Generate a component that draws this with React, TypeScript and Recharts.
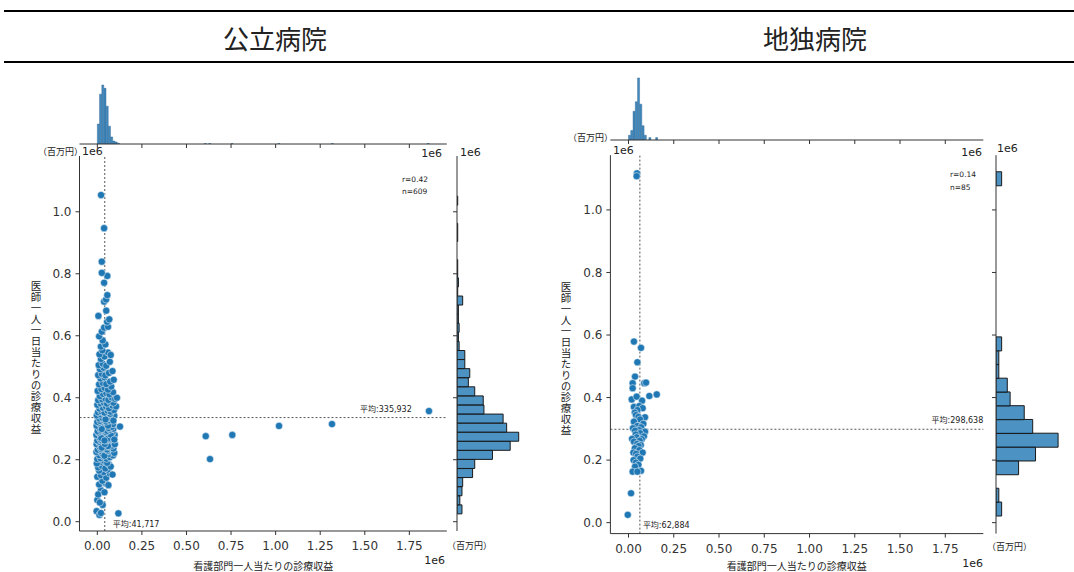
import { ScatterChart, Scatter, BarChart, Bar, XAxis, YAxis, ReferenceLine } from 'recharts'

const FONT = '"DejaVu Sans", "Noto Sans CJK JP", sans-serif'
const CJK = '"Noto Sans CJK JP", sans-serif'
const INK = '#333333'
const BLUE = '#1f77b4'
const GUIDE = '#555555'

const TITLES = ['公立病院', '地独病院']
const X_LABEL = '看護部門一人当たりの診療収益'
const Y_LABEL = '医師一人一日当たりの診療収益'
const UNIT = '（百万円）'
const OFFSET = '1e6'
const X_TICKS = [0, 0.25, 0.5, 0.75, 1, 1.25, 1.5, 1.75]
const Y_TICKS = [0, 0.2, 0.4, 0.6, 0.8, 1.0]
const X_DOMAIN: [number, number] = [-0.1, 1.96]

// 公立病院 — [看護部門, 医師] in units of 1e6
const publicPoints: [number, number][] = [
  [-0.004, 0.034], [0.012, 0.022], [0.118, 0.027], [0.02, 0.028],
  [0.0, 0.07], [0.03, 0.054], [0.014, 0.062],
  [0.02, 0.102], [0.005, 0.088], [0.04, 0.095],
  [0.01, 0.12], [0.045, 0.125], [0.028, 0.132], [0.062, 0.118],
  [0.0, 0.145], [0.02, 0.15], [0.05, 0.142], [0.07, 0.155], [0.035, 0.16], [0.01, 0.165], [0.058, 0.168], [0.085, 0.152],
  [0.005, 0.175], [0.025, 0.18], [0.045, 0.172], [0.065, 0.185], [0.015, 0.192], [0.04, 0.196], [0.075, 0.178], [0.055, 0.19], [-0.003, 0.188],
  [0.0, 0.202], [0.018, 0.205], [0.035, 0.21], [0.052, 0.203], [0.07, 0.208], [0.088, 0.214], [0.01, 0.215], [0.028, 0.22],
  [0.045, 0.224], [0.062, 0.218], [0.078, 0.226], [-0.005, 0.225], [0.022, 0.228], [0.04, 0.213], [0.058, 0.229], [0.095, 0.222],
  [0.002, 0.232], [0.02, 0.235], [0.038, 0.238], [0.055, 0.233], [0.072, 0.24], [0.09, 0.236], [0.012, 0.243], [0.03, 0.246],
  [0.048, 0.242], [0.065, 0.248], [0.082, 0.245], [-0.004, 0.25], [0.015, 0.252], [0.033, 0.255], [0.05, 0.258], [0.068, 0.253],
  [0.085, 0.257], [0.025, 0.239], [0.06, 0.244], [0.042, 0.251], [0.008, 0.258], [0.098, 0.25],
  [0.0, 0.262], [0.018, 0.265], [0.035, 0.268], [0.052, 0.262], [0.07, 0.266], [0.088, 0.27], [0.01, 0.272], [0.028, 0.275],
  [0.045, 0.278], [0.062, 0.273], [0.08, 0.277], [0.097, 0.28], [-0.005, 0.28], [0.015, 0.283], [0.032, 0.286], [0.05, 0.282],
  [0.068, 0.285], [0.085, 0.288], [0.022, 0.27], [0.058, 0.268], [0.04, 0.262], [0.075, 0.281], [0.006, 0.288], [0.095, 0.265], [0.048, 0.289],
  [0.002, 0.292], [0.02, 0.295], [0.038, 0.298], [0.055, 0.293], [0.072, 0.297], [0.09, 0.3], [0.012, 0.302], [0.03, 0.305],
  [0.048, 0.308], [0.065, 0.302], [0.082, 0.306], [0.127, 0.307], [-0.004, 0.31], [0.018, 0.313], [0.036, 0.316], [0.053, 0.312],
  [0.07, 0.318], [0.088, 0.315], [0.025, 0.299], [0.06, 0.31], [0.008, 0.319],
  [0.0, 0.322], [0.016, 0.325], [0.034, 0.328], [0.05, 0.323], [0.068, 0.327], [0.085, 0.331], [0.01, 0.333], [0.027, 0.336],
  [0.044, 0.339], [0.06, 0.334], [0.077, 0.338], [0.095, 0.342], [-0.003, 0.343], [0.02, 0.346], [0.038, 0.349], [0.055, 0.344],
  [0.072, 0.348], [0.09, 0.326], [0.046, 0.33],
  [0.004, 0.353], [0.022, 0.356], [0.04, 0.352], [0.058, 0.358], [0.075, 0.355], [0.093, 0.36], [0.012, 0.365], [0.03, 0.368],
  [0.048, 0.372], [0.066, 0.366], [0.084, 0.375], [0.0, 0.377], [0.105, 0.372],
  [0.018, 0.382], [0.036, 0.385], [0.054, 0.381], [0.072, 0.387], [0.09, 0.384], [0.005, 0.392], [0.026, 0.395], [0.044, 0.398],
  [0.062, 0.393], [0.08, 0.401], [0.1, 0.396], [0.014, 0.405], [0.11, 0.4],
  [0.032, 0.412], [0.05, 0.415], [0.068, 0.411], [0.088, 0.418], [0.002, 0.422], [0.022, 0.428], [0.04, 0.432], [0.06, 0.426], [0.078, 0.436],
  [0.01, 0.443], [0.03, 0.448], [0.05, 0.444], [0.072, 0.452], [0.092, 0.458], [0.018, 0.462], [0.04, 0.466],
  [0.005, 0.473], [0.025, 0.477], [0.045, 0.472], [0.065, 0.48], [0.085, 0.486], [0.015, 0.492], [0.035, 0.497],
  [0.008, 0.505], [0.03, 0.51], [0.05, 0.503], [0.07, 0.516], [0.02, 0.525],
  [0.04, 0.533], [0.012, 0.54], [0.06, 0.546], [0.028, 0.553], [0.075, 0.538],
  [0.02, 0.565], [0.045, 0.572], [0.03, 0.585], [0.01, 0.598], [0.025, 0.613],
  [0.038, 0.626], [0.06, 0.629], [0.055, 0.645], [0.006, 0.664], [0.067, 0.653],
  [0.05, 0.681], [0.038, 0.71], [0.049, 0.717], [0.056, 0.731],
  [0.038, 0.771], [0.056, 0.793], [0.025, 0.803], [0.025, 0.839], [0.038, 0.947], [0.021, 1.054],
  [0.608, 0.276], [0.632, 0.202], [0.757, 0.28], [1.019, 0.309], [1.316, 0.315], [1.86, 0.357],
]
const publicMeanX = 41717
const publicMeanY = 335932
const publicR = 0.42
const publicN = 609
// top histogram: bin starts (width 0.0125) and counts
const publicXBinStart = [0, 0.0125, 0.025, 0.0375, 0.05, 0.0625, 0.075, 0.0875, 0.1, 0.1125, 0.6, 0.625, 0.75, 1.0125, 1.3125, 1.85]
const publicXBinCount = [48, 120, 142, 134, 91, 43, 17, 7, 5, 2, 1, 1, 1, 1, 1, 1]
// side histogram: 35 bins of 0.0293 from 0.025
const publicYBinCount = [
  7, 4, 7, 8, 22, 25, 50, 75, 87, 70, 65, 38, 37, 25, 16, 18, 11, 11,
  3, 2, 3, 2, 2, 8, 1, 2, 1, 1, 0, 0, 1, 1, 0, 0, 1,
]

// 地独病院
const agencyPoints: [number, number][] = [
  [0.047, 1.117], [0.045, 1.108],
  [0.03, 0.579], [0.069, 0.559], [0.049, 0.513], [0.036, 0.467],
  [0.023, 0.446], [0.087, 0.446], [0.097, 0.448], [0.023, 0.43], [0.115, 0.405], [0.156, 0.41], [0.018, 0.394], [0.045, 0.403],
  [0.075, 0.39], [0.03, 0.37], [0.06, 0.373], [0.078, 0.366], [0.049, 0.36], [0.035, 0.352], [0.091, 0.337], [0.041, 0.344],
  [0.055, 0.338], [0.064, 0.33], [0.03, 0.323], [0.082, 0.316], [0.049, 0.309], [0.07, 0.305], [0.025, 0.302],
  [0.058, 0.296], [0.091, 0.291], [0.036, 0.294], [0.064, 0.286], [0.04, 0.282], [0.085, 0.276], [0.045, 0.273],
  [0.073, 0.267], [0.02, 0.268], [0.062, 0.262], [0.03, 0.259], [0.048, 0.252], [0.068, 0.248], [0.056, 0.245],
  [0.035, 0.238], [0.06, 0.232], [0.078, 0.224], [0.027, 0.224], [0.042, 0.22], [0.049, 0.211], [0.065, 0.205],
  [0.028, 0.2], [0.041, 0.192], [0.055, 0.185], [0.036, 0.179], [0.023, 0.163], [0.069, 0.166], [0.049, 0.163],
  [0.014, 0.094], [-0.004, 0.025],
]
const agencyMeanX = 62884
const agencyMeanY = 298638
const agencyR = 0.14
const agencyN = 85
const agencyXBinStart = [0, 0.0125, 0.025, 0.0375, 0.05, 0.0625, 0.075, 0.0875, 0.1125, 0.15]
const agencyXBinCount = [2, 4, 12, 16, 26, 15, 6, 2, 1, 1]
// side histogram: 25 bins of 0.044 from 0.022
const agencyYBinCount = [2, 1, 0, 8, 14, 22, 13, 10, 5, 4, 1, 1, 2, 0, 0, 0, 0, 0, 0, 0, 0, 0, 0, 0, 2]

type Layout = {
  left: number; top: number; width: number; height: number
  marginTop: number; marginRight: number
  yAxisWidth: number; xAxisHeight: number; tickGap: number
  yDomain: [number, number]
  topTop: number; topMax: number
  sideLeft: number; sideWidth: number; sideRight: number; sideMax: number
  meanXdx: number; meanXdy: number; meanYinset: number
}

const LEFT: Layout = {
  left: 0, top: 140, width: 460, height: 432,
  marginTop: 16, marginRight: 13.2, yAxisWidth: 79.5, xAxisHeight: 41, tickGap: 6,
  yDomain: [-0.03, 1.18],
  topTop: 80, topMax: 154,
  sideLeft: 449, sideWidth: 90, sideRight: 12, sideMax: 98.7,
  meanXdx: 8, meanXdy: 4, meanYinset: 35,
}

const RIGHT: Layout = {
  left: 530, top: 140, width: 470, height: 432,
  marginTop: 15.2, marginRight: 16.7, yAxisWidth: 80.4, xAxisHeight: 38.4, tickGap: 6.5,
  yDomain: [-0.035, 1.175],
  topTop: 76, topMax: 26.8,
  sideLeft: 988, sideWidth: 80, sideRight: 2, sideMax: 24.8,
  meanXdx: 3, meanXdy: 5.6, meanYinset: 0,
}

const tickStyle = { fill: INK, fontSize: 12, fontFamily: FONT }
const fmtMean = (v: number) => `平均:${v.toLocaleString('en-US')}`

function Dot(props: any) {
  const { cx, cy } = props
  if (cx == null || cy == null) return null
  return <circle cx={cx} cy={cy} r={3.6} fill={BLUE} stroke="#ffffff" strokeWidth={0.5} />
}

// y-axis title set top-to-bottom with upright glyphs
function StackedLabel({ viewBox, shift }: any) {
  const cx = viewBox.x + 36
  const cy = viewBox.y + viewBox.height / 2 + shift
  return (
    <text x={cx} y={cy} textAnchor="middle" fontSize={10.5} fill="#222" fontFamily={CJK}
      letterSpacing={0.5} style={{ writingMode: 'vertical-rl' }}>
      {Y_LABEL}
    </text>
  )
}

function Note({ x, y, size, text, anchor = 'start', family = FONT }: any) {
  const tx = anchor === 'end' ? '-100%' : anchor === 'middle' ? '-50%' : '0'
  return (
    <div style={{
      position: 'absolute', left: x, top: y, transform: `translate(${tx}, -50%)`,
      fontSize: size, lineHeight: 1, whiteSpace: 'nowrap', color: '#222', fontFamily: family,
    }}>{text}</div>
  )
}

function Panel({ g, points, meanX, meanY, xStart, xCount, yFrom, yWidth, yCount }: any) {
  const scatter = points.map(([x, y]: number[]) => ({ x, y }))
  const topBins = xStart
    .map((s: number, i: number) => ({ mid: s + 0.0125 / 2, count: xCount[i] }))
  const sideBins = yCount
    .map((c: number, i: number) => ({ mid: yFrom + (i + 0.5) * yWidth, count: c }))
    .filter((b: any) => b.count > 0)
  const mx = meanX / 1e6
  const my = meanY / 1e6

  return (
    <>
      {/* marginal histogram along x */}
      <div style={{ position: 'absolute', left: g.left, top: g.topTop }}>
        <BarChart width={g.width} height={72} data={topBins} barCategoryGap={0}
          margin={{ top: 0, right: g.marginRight, bottom: 0, left: g.yAxisWidth }}>
          <XAxis type="number" dataKey="mid" domain={X_DOMAIN} allowDataOverflow ticks={X_TICKS}
            interval={0} height={8} tickSize={4} tickFormatter={() => ''}
            axisLine={{ stroke: INK }} tickLine={{ stroke: INK }} />
          <YAxis type="number" hide domain={[0, g.topMax]} allowDataOverflow />
          <Bar dataKey="count" fill={BLUE} fillOpacity={0.85} stroke="#2a5d8a" strokeWidth={0.4}
            isAnimationActive={false} />
        </BarChart>
      </div>

      {/* scatter */}
      <div style={{ position: 'absolute', left: g.left, top: g.top }}>
        <ScatterChart width={g.width} height={g.height}
          margin={{ top: g.marginTop, right: g.marginRight, bottom: 0, left: 0 }}>
          <XAxis type="number" dataKey="x" domain={X_DOMAIN} allowDataOverflow ticks={X_TICKS}
            interval={0} height={g.xAxisHeight} tickSize={4} tickMargin={g.tickGap}
            tickFormatter={(v: number) => v.toFixed(2)} tick={tickStyle}
            axisLine={{ stroke: INK }} tickLine={{ stroke: INK }}
            label={{
              content: ({ viewBox }: any) => (
                <text x={viewBox.x + viewBox.width / 2} y={viewBox.y + viewBox.height - 7}
                  textAnchor="middle" dominantBaseline="central" fontSize={10} fill="#222"
                  fontFamily={CJK}>{X_LABEL}</text>
              ),
            }} />
          <YAxis type="number" dataKey="y" domain={g.yDomain} allowDataOverflow ticks={Y_TICKS}
            interval={0} width={g.yAxisWidth} tickSize={4} tickMargin={4}
            tickFormatter={(v: number) => v.toFixed(1)} tick={tickStyle}
            axisLine={{ stroke: INK }} tickLine={{ stroke: INK }}
            label={{ content: (p: any) => <StackedLabel {...p} shift={14} /> }} />
          <Scatter data={scatter} shape={<Dot />} isAnimationActive={false} />
          <ReferenceLine x={mx} stroke={GUIDE} strokeDasharray="2 2" strokeWidth={1}
            label={{
              content: ({ viewBox }: any) => (
                <text x={viewBox.x + g.meanXdx} y={viewBox.y + viewBox.height - g.meanXdy}
                  fontSize={8} fill="#222" fontFamily={FONT}>{fmtMean(meanX)}</text>
              ),
            }} />
          <ReferenceLine y={my} stroke={GUIDE} strokeDasharray="2 2" strokeWidth={1}
            label={{
              content: ({ viewBox }: any) => (
                <text x={viewBox.x + viewBox.width - g.meanYinset} y={viewBox.y - 6}
                  textAnchor="end" fontSize={8} fill="#222" fontFamily={FONT}>{fmtMean(meanY)}</text>
              ),
            }} />
        </ScatterChart>
      </div>

      {/* marginal histogram along y; the vertical layout runs low values at the top, so reverse it */}
      <div style={{ position: 'absolute', left: g.sideLeft, top: g.top }}>
        <BarChart layout="vertical" width={g.sideWidth} height={g.height} data={sideBins}
          barCategoryGap={0}
          margin={{ top: g.marginTop, right: g.sideRight, bottom: g.xAxisHeight, left: 0 }}>
          <XAxis type="number" hide domain={[0, g.sideMax]} allowDataOverflow />
          <YAxis type="number" dataKey="mid" domain={g.yDomain} allowDataOverflow reversed
            ticks={Y_TICKS} interval={0} width={8} tickSize={4} tickFormatter={() => ''}
            axisLine={{ stroke: INK }} tickLine={{ stroke: INK }} />
          <Bar dataKey="count" fill={BLUE} fillOpacity={0.8} stroke="#1a1a1a" strokeWidth={1}
            isAnimationActive={false} />
        </BarChart>
      </div>
    </>
  )
}

export default function App() {
  return (
    <div style={{
      position: 'absolute', left: 0, top: 0, width: 1074, height: 572,
      background: '#ffffff', overflow: 'hidden', fontFamily: FONT,
    }}>
      <div style={{ position: 'absolute', left: 4, right: 0, top: 10, height: 2, background: '#000' }} />
      <div style={{ position: 'absolute', left: 4, right: 0, top: 61, height: 2, background: '#000' }} />
      <Note x={275} y={38} size={26} text={TITLES[0]} anchor="middle" family={CJK} />
      <Note x={815} y={38} size={26} text={TITLES[1]} anchor="middle" family={CJK} />

      <Panel g={LEFT} points={publicPoints} meanX={publicMeanX} meanY={publicMeanY}
        xStart={publicXBinStart} xCount={publicXBinCount}
        yFrom={0.025} yWidth={0.0293} yCount={publicYBinCount} />
      <Panel g={RIGHT} points={agencyPoints} meanX={agencyMeanX} meanY={agencyMeanY}
        xStart={agencyXBinStart} xCount={agencyXBinCount}
        yFrom={0.022} yWidth={0.044} yCount={agencyYBinCount} />

      {/* axis units, offsets and correlation notes — 公立病院 */}
      <Note x={38} y={151} size={9} text={UNIT} family={CJK} />
      <Note x={82} y={151} size={11} text={OFFSET} />
      <Note x={442} y={153} size={11} text={OFFSET} anchor="end" />
      <Note x={460} y={152} size={11} text={OFFSET} />
      <Note x={402} y={180} size={7.5} text={`r=${publicR.toFixed(2)}`} />
      <Note x={402} y={192} size={7.5} text={`n=${publicN}`} />
      <Note x={447} y={545} size={9} text={UNIT} family={CJK} />
      <Note x={445} y={560} size={11} text={OFFSET} anchor="end" />

      {/* 地独病院 */}
      <Note x={568} y={137} size={9} text={UNIT} family={CJK} />
      <Note x={613} y={150} size={11} text={OFFSET} />
      <Note x={982} y={152} size={11} text={OFFSET} anchor="end" />
      <Note x={997} y={148} size={11} text={OFFSET} />
      <Note x={950} y={175} size={7.5} text={`r=${agencyR.toFixed(2)}`} />
      <Note x={950} y={188} size={7.5} text={`n=${agencyN}`} />
      <Note x={987} y={546} size={9} text={UNIT} family={CJK} />
      <Note x={983} y={563} size={11} text={OFFSET} anchor="end" />
    </div>
  )
}
